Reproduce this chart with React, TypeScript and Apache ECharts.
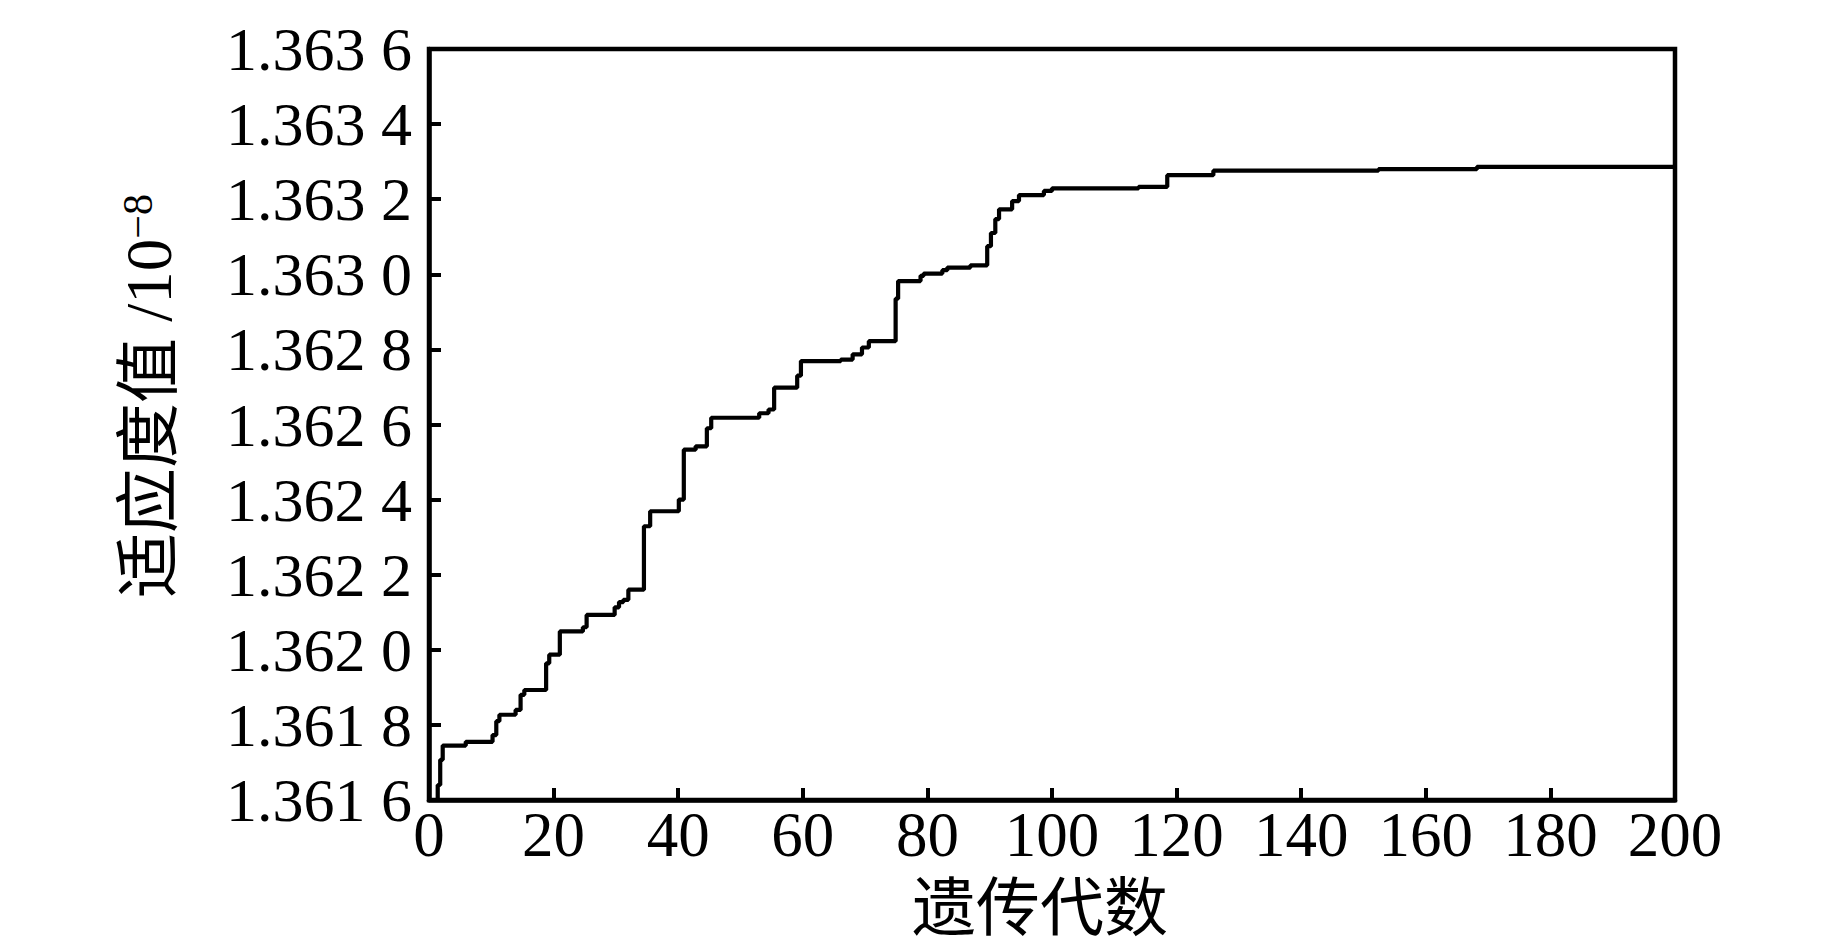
import React, { useEffect, useRef } from "react";
import * as echarts from "echarts";

// Generation at which each new best fitness value appears (step changes)
const generations = [
  0, 1.4, 1.8, 2.2, 5.9, 10.2, 10.8, 11.3, 13.9, 14.7, 15.3, 18.8, 19.3, 21.0,
  24.7, 25.3, 29.8, 30.5, 31.2, 32.0, 34.5, 35.5, 40.1, 40.9, 42.8, 44.6, 45.3,
  53.0, 54.5, 55.4, 59.1, 59.7, 66.1, 68.0, 69.5, 70.6, 74.9, 75.3, 78.9, 79.4,
  82.4, 83.2, 86.9, 89.6, 90.2, 90.9, 91.5, 93.6, 94.7, 98.7, 100.0, 113.9,
  118.5, 125.9, 152.4, 168.2, 200,
];

// Best fitness value (x 10^-8) from that generation on
const fitness = [
  1.3616, 1.36164, 1.361707, 1.361745, 1.361755, 1.361773, 1.36181, 1.361827,
  1.36184, 1.36188, 1.361893, 1.361964, 1.361987, 1.362049, 1.36206, 1.362093,
  1.362113, 1.362127, 1.362133, 1.36216, 1.362329, 1.362369, 1.3624, 1.362533,
  1.362542, 1.36259, 1.362618, 1.36263, 1.36264, 1.362698, 1.36273, 1.362769,
  1.362773, 1.362787, 1.362805, 1.362822, 1.362935, 1.362982, 1.362996,
  1.363002, 1.363011, 1.363018, 1.363024, 1.363075, 1.36311, 1.363147,
  1.363173, 1.363195, 1.363211, 1.363222, 1.363229, 1.363233, 1.363264,
  1.363276, 1.36328, 1.363286, 1.363286,
];

const yMin = 1.3616;
const yMax = 1.3636;
const yStep = 0.0002;
const xMin = 0;
const xMax = 200;
const xStep = 20;

const xTitle = "遗传代数";
const yTitleMain = "适应度值 /10";
const yTitleSup = "−8";

const SERIF = '"Liberation Serif", "Times New Roman", serif';
const CJK = '"Liberation Serif", "Noto Sans CJK SC", serif';

export default function App() {
  const ref = useRef<HTMLDivElement>(null);

  useEffect(() => {
    document.body.style.margin = "0";
    const chart = echarts.init(ref.current!, null, { renderer: "svg" });
    const data = generations.map((g, i) => [g, fitness[i]]);
    chart.setOption({
      animation: false,
      backgroundColor: "#ffffff",
      grid: {
        left: 429,
        top: 49,
        right: 168,
        bottom: 145,
        show: true,
        borderColor: "#000",
        borderWidth: 4.5,
        backgroundColor: "transparent",
      },
      xAxis: {
        type: "value",
        min: xMin,
        max: xMax,
        interval: xStep,
        axisLine: { show: true, lineStyle: { color: "#000", width: 4.5 } },
        axisTick: { show: true, inside: true, length: 12, lineStyle: { color: "#000", width: 4 } },
        splitLine: { show: false },
        axisLabel: {
          color: "#000",
          fontFamily: SERIF,
          fontSize: 63,
          margin: 3,
        },
      },
      yAxis: {
        type: "value",
        min: yMin,
        max: yMax,
        interval: yStep,
        axisLine: { show: true, lineStyle: { color: "#000", width: 4.5 } },
        axisTick: { show: true, inside: true, length: 12, lineStyle: { color: "#000", width: 4 } },
        splitLine: { show: false },
        axisLabel: {
          color: "#000",
          fontFamily: SERIF,
          fontSize: 62,
          margin: 17,
          formatter: (v: number) => {
            const s = v.toFixed(4);
            return s.slice(0, 5) + " " + s.slice(5);
          },
        },
      },
      graphic: [
        {
          type: "text",
          x: 1040,
          y: 908,
          style: {
            text: xTitle,
            fontSize: 64,
            fontFamily: CJK,
            fill: "#000",
            align: "center",
            verticalAlign: "middle",
          },
        },
        {
          type: "text",
          x: 149,
          y: 396,
          rotation: Math.PI / 2,
          style: {
            text: "{a|" + yTitleMain + "}{b|" + yTitleSup + "}",
            align: "center",
            verticalAlign: "middle",
            fill: "#000",
            rich: {
              a: { fontSize: 65, fontFamily: CJK, fill: "#000" },
              b: { fontSize: 42, fontFamily: SERIF, fill: "#000", verticalAlign: "top" },
            },
          },
        },
      ],
      series: [
        {
          type: "line",
          step: "end",
          data,
          showSymbol: false,
          symbol: "none",
          lineStyle: { color: "#000", width: 4.2 },
          clip: true,
        },
      ],
    });
    return () => chart.dispose();
  }, []);

  return <div ref={ref} style={{ width: 1843, height: 945 }} />;
}
